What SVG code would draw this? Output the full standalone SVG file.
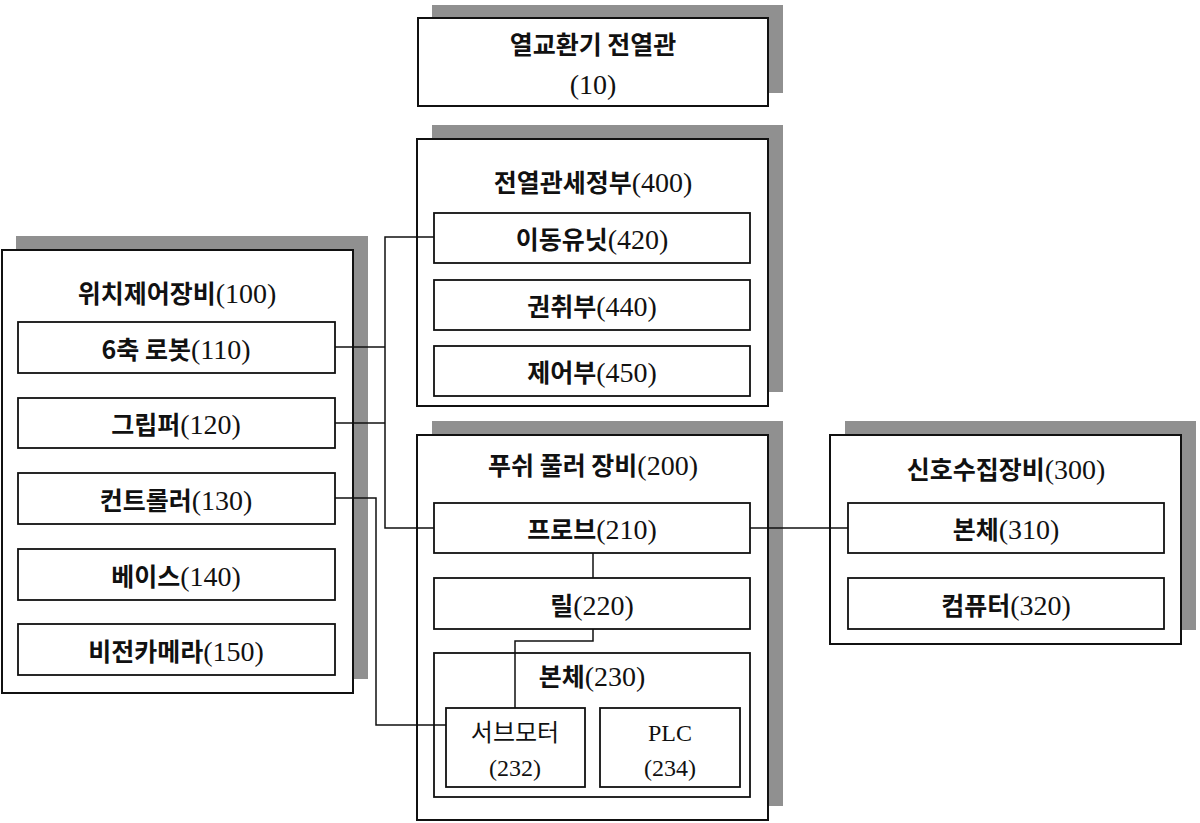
<svg xmlns="http://www.w3.org/2000/svg" width="1200" height="823" viewBox="0 0 1200 823">
<style>
.sh{fill:#909090}
.box{fill:#fff;stroke:#111;stroke-width:2}
.in{fill:#fff;stroke:#111;stroke-width:1.8}
text{font-family:"Liberation Serif","Noto Sans CJK KR",serif;font-size:28px;fill:#111;text-anchor:middle}
.k{font-family:"Noto Sans CJK KR","Liberation Serif",sans-serif;font-weight:bold;font-size:25px}
.s{font-size:24px}
.c{fill:none;stroke:#111;stroke-width:1.5}
</style>
<rect width="1200" height="823" fill="#fff"/>
<g id="n10"><rect class="sh" x="432" y="5" width="351" height="88"/><rect class="box" x="418" y="18" width="350" height="88"/>
<text x="593" y="54"><tspan class="k">열교환기 전열관</tspan></text><text x="593" y="94">(10)</text></g>
<g id="n400"><rect class="sh" x="432" y="125" width="351" height="267"/><rect class="box" x="417" y="139" width="351" height="267"/>
<text x="593" y="192"><tspan class="k">전열관세정부</tspan>(400)</text></g>
<g id="n420"><rect class="in" x="434" y="213" width="316" height="50"/><text x="592" y="249"><tspan class="k">이동유닛</tspan>(420)</text></g>
<g id="n440"><rect class="in" x="434" y="280" width="316" height="50"/><text x="592" y="316"><tspan class="k">권취부</tspan>(440)</text></g>
<g id="n450"><rect class="in" x="434" y="346" width="316" height="50"/><text x="592" y="382"><tspan class="k">제어부</tspan>(450)</text></g>
<g id="n100"><rect class="sh" x="16" y="236" width="352" height="443"/><rect class="box" x="2" y="250" width="351" height="443"/>
<text x="177" y="303"><tspan class="k">위치제어장비</tspan>(100)</text></g>
<g id="n110"><rect class="in" x="18" y="322" width="317" height="51"/><text x="176" y="359"><tspan class="k">6축 로봇</tspan>(110)</text></g>
<g id="n120"><rect class="in" x="18" y="398" width="317" height="50"/><text x="176" y="434"><tspan class="k">그립퍼</tspan>(120)</text></g>
<g id="n130"><rect class="in" x="18" y="473" width="317" height="51"/><text x="176" y="510"><tspan class="k">컨트롤러</tspan>(130)</text></g>
<g id="n140"><rect class="in" x="18" y="549" width="317" height="51"/><text x="176" y="586"><tspan class="k">베이스</tspan>(140)</text></g>
<g id="n150"><rect class="in" x="18" y="624" width="317" height="51"/><text x="176" y="661"><tspan class="k">비전카메라</tspan>(150)</text></g>
<g id="n200"><rect class="sh" x="432" y="421" width="351" height="385"/><rect class="box" x="417" y="435" width="351" height="385"/>
<text x="593" y="475"><tspan class="k">푸쉬 풀러 장비</tspan>(200)</text></g>
<g id="n210"><rect class="in" x="434" y="503" width="316" height="50"/><text x="592" y="539"><tspan class="k">프로브</tspan>(210)</text></g>
<g id="n220"><rect class="in" x="434" y="578" width="316" height="51"/><text x="592" y="615"><tspan class="k">릴</tspan>(220)</text></g>
<g id="n230"><rect class="in" x="434" y="653" width="316" height="144"/><text x="592" y="686"><tspan class="k">본체</tspan>(230)</text></g>
<g id="n232"><rect class="in" x="446" y="708" width="139" height="79"/><text class="s" x="515" y="741">서브모터</text><text class="s" x="515" y="776">(232)</text></g>
<g id="n234"><rect class="in" x="600" y="708" width="140" height="79"/><text class="s" x="670" y="741">PLC</text><text class="s" x="670" y="776">(234)</text></g>
<g id="n300"><rect class="sh" x="845" y="421" width="351" height="209"/><rect class="box" x="830" y="435" width="351" height="209"/>
<text x="1006" y="479"><tspan class="k">신호수집장비</tspan>(300)</text></g>
<g id="n310"><rect class="in" x="848" y="503" width="316" height="50"/><text x="1006" y="539"><tspan class="k">본체</tspan>(310)</text></g>
<g id="n320"><rect class="in" x="848" y="578" width="316" height="51"/><text x="1006" y="615"><tspan class="k">컴퓨터</tspan>(320)</text></g>
<g id="connectors">
<polyline class="c" points="335,347 385,347"/>
<polyline class="c" points="335,423 385,423"/>
<polyline class="c" points="434,237 385,237 385,528 434,528"/>
<polyline class="c" points="335,498 376,498 376,725 446,725"/>
<polyline class="c" points="593,553 593,578"/>
<polyline class="c" points="593,629 593,641 515,641 515,708"/>
<polyline class="c" points="750,528 848,528"/>
</g>
</svg>
